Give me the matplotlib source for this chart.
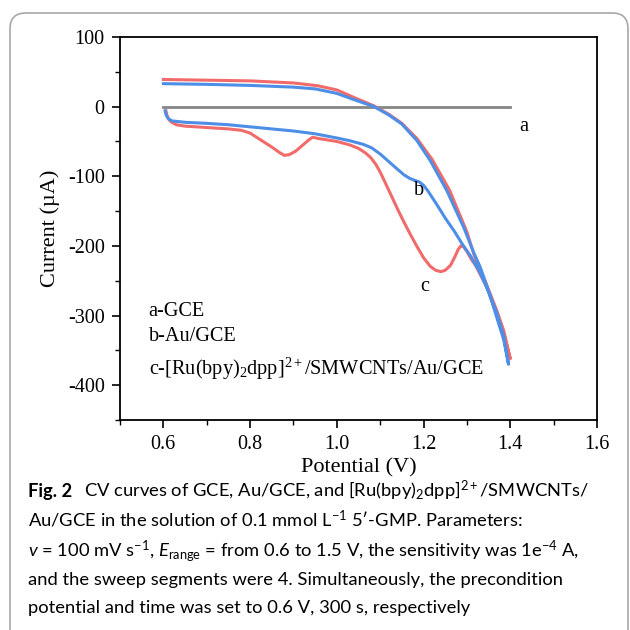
import numpy as np
import matplotlib
matplotlib.use("Agg")
import matplotlib.pyplot as plt
from matplotlib.patches import FancyBboxPatch

plt.rcParams['mathtext.fontset'] = 'custom'
plt.rcParams['mathtext.rm'] = 'Liberation Serif'
plt.rcParams['mathtext.sf'] = 'Lato'
plt.rcParams['mathtext.it'] = 'Lato:italic'
plt.rcParams['axes.unicode_minus'] = False

# curve a - bare GCE
a_x = [0.6, 1.4]
a_y = [0, 0]

# curve b - Au/GCE, forward (lower) branch
b_low_x = [0.604, 0.606, 0.609, 0.613, 0.62, 0.635, 0.65, 0.70, 0.75, 0.80, 0.85, 0.90,
           0.95, 1.00, 1.03, 1.06, 1.08, 1.10, 1.12, 1.14, 1.155, 1.168, 1.18, 1.19,
           1.20, 1.21, 1.23, 1.25, 1.27, 1.29, 1.31, 1.33, 1.35, 1.37, 1.385, 1.396]
b_low_y = [-6, -11, -15, -18, -20.5, -21.5, -22.5, -24, -26, -29, -32, -35,
           -39, -45, -49, -54, -59, -68, -79, -90, -98, -103, -106, -108,
           -113, -121, -140, -160, -178, -198, -216, -238, -266, -298, -330, -370]
# curve b - reverse (upper) branch
b_up_x = [0.6, 0.7, 0.8, 0.9, 0.95, 1.0, 1.04, 1.086, 1.12, 1.15, 1.185, 1.216,
          1.254, 1.293, 1.316, 1.331, 1.35, 1.369, 1.385, 1.396]
b_up_y = [33, 32, 30.5, 28, 25.5, 19, 10, 0, -12, -25, -49, -78,
          -121, -174, -210, -231, -265, -303, -335, -370]

# curve c - [Ru(bpy)2dpp]2+/SMWCNTs/Au/GCE
c_low_x = [0.606, 0.608, 0.612, 0.618, 0.63, 0.65, 0.70, 0.75, 0.78, 0.80, 0.825, 0.85,
           0.868, 0.879, 0.89, 0.905, 0.92, 0.935, 0.944, 0.96, 1.0, 1.03, 1.05, 1.065,
           1.078, 1.09, 1.10, 1.11, 1.125, 1.14, 1.155, 1.17, 1.185, 1.2, 1.215, 1.228,
           1.24, 1.25, 1.262, 1.272, 1.28, 1.286, 1.292, 1.3, 1.31, 1.32, 1.345, 1.369,
           1.385, 1.4]
c_low_y = [-6, -12, -18, -22, -26, -28, -30, -32, -34, -38, -48, -58,
           -66, -70, -69, -64, -56, -48, -44, -46, -50, -55, -60, -66,
           -73, -83, -94, -107, -127, -147, -166, -184, -201, -217, -229, -235,
           -237, -235, -228, -216, -205, -200, -201, -208, -219, -228, -258, -297,
           -326, -362]
c_up_x = [0.6, 0.7, 0.8, 0.9, 0.956, 1.0, 1.04, 1.086, 1.12, 1.15, 1.185, 1.22,
          1.26, 1.30, 1.316, 1.345, 1.369, 1.385, 1.4]
c_up_y = [39, 38, 37, 34, 30, 24, 13, 1, -11, -24, -46, -76,
          -120, -180, -212, -255, -293, -322, -362]

red = '#f26b6b'
blue = '#4d8ee6'

fig = plt.figure(figsize=(6.3, 6.3), dpi=100)
ax = fig.add_axes([120 / 630, 1 - 420 / 630, 477 / 630, 383 / 630])

ax.plot(a_x, a_y, color='#858585', lw=2.0)
ax.plot(c_low_x + c_up_x[::-1], c_low_y + c_up_y[::-1], color=red, lw=2.2,
        solid_joinstyle='round')
ax.plot(b_low_x + b_up_x[::-1], b_low_y + b_up_y[::-1], color=blue, lw=2.2,
        solid_joinstyle='round')

ax.set_xlim(0.5, 1.6)
ax.set_ylim(-450, 100)
ax.set_xticks([0.6, 0.8, 1.0, 1.2, 1.4, 1.6])
ax.set_xticklabels(['0.6', '0.8', '1.0', '1.2', '1.4', '1.6'])
ax.set_yticks([-400, -300, -200, -100, 0, 100])
ax.set_xticks(np.arange(0.5, 1.61, 0.1), minor=True)
ax.set_yticks(np.arange(-450, 101, 50), minor=True)
ax.tick_params(which='major', direction='out', length=6, width=1.2,
               labelsize=14.5, pad=5)
ax.tick_params(which='minor', direction='out', length=3.5, width=1.0)
for lab in ax.get_xticklabels() + ax.get_yticklabels():
    lab.set_family('Liberation Serif')
for sp in ax.spines.values():
    sp.set_linewidth(1.3)

ax.set_xlabel('Potential (V)', family='Liberation Serif', fontsize=16, labelpad=3)
ax.set_ylabel('Current (\u00b5A)', family='Liberation Serif', fontsize=16, labelpad=6)

serif = dict(family='Liberation Serif', fontsize=14.6)
ax.text(1.43, -29, 'a', ha='center', va='center', **serif)
ax.text(1.189, -121, 'b', ha='center', va='center', **serif)
ax.text(1.202, -258, 'c', ha='center', va='center', **serif)
ax.text(0.566, -294, 'a-GCE', ha='left', va='center', **serif)
ax.text(0.566, -330, 'b-Au/GCE', ha='left', va='center', **serif)
ax.text(0.566, -377, r'c-[Ru(bpy)$_2$dpp]$^{2+}$/SMWCNTs/Au/GCE', ha='left',
        va='center', **serif)

# rounded frame around the figure panel
frame = FancyBboxPatch((10 / 630, -0.05), 618 / 630, 1 - 13 / 630 + 0.05,
                       boxstyle='round,pad=0,rounding_size=0.025',
                       transform=fig.transFigure, facecolor='none',
                       edgecolor='#a8a8a8', lw=1.2, clip_on=False)
fig.patches.append(frame)

# caption
cap = dict(family=['Lato', 'DejaVu Sans'], fontsize=13.2, va='baseline', ha='left')
x0 = 28 / 630
fig.text(x0, 1 - 497 / 630, 'Fig. 2', weight='bold', **cap)
fig.text(84 / 630, 1 - 497 / 630,
         r'CV curves of GCE, Au/GCE, and [Ru(bpy)$_{\mathsf{2}}$dpp]$^{\mathsf{2+}}$/SMWCNTs/',
         **cap)
fig.text(x0, 1 - 527 / 630,
         'Au/GCE in the solution of 0.1 mmol L$^{\\mathsf{-1}}$ 5\u2032-GMP. Parameters:',
         **cap)
fig.text(x0, 1 - 556 / 630,
         r'$v$ = 100 mV s$^{\mathsf{-1}}$, $E_{\mathsf{range}}$ = from 0.6 to 1.5 V, '
         r'the sensitivity was 1e$^{\mathsf{-4}}$ A,', **cap)
fig.text(x0, 1 - 585 / 630,
         'and the sweep segments were 4. Simultaneously, the precondition', **cap)
fig.text(x0, 1 - 613 / 630,
         'potential and time was set to 0.6 V, 300 s, respectively', **cap)

fig.savefig('out.png', dpi=100)
